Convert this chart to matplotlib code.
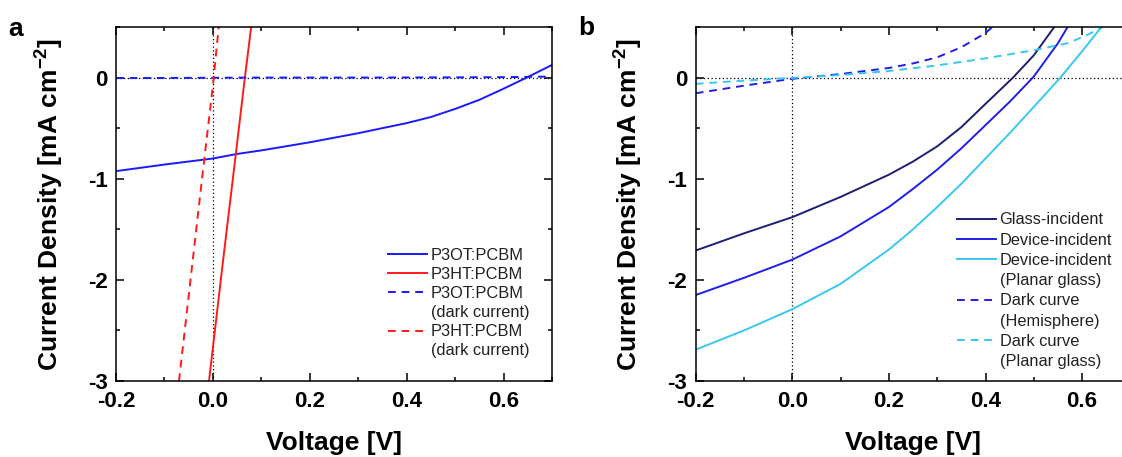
import matplotlib
matplotlib.use("Agg")
import matplotlib.pyplot as plt
from matplotlib.lines import Line2D
from matplotlib.ticker import MultipleLocator, FormatStrFormatter

plt.rcParams["font.family"] = ["Liberation Sans", "DejaVu Sans"]
plt.rcParams["mathtext.fontset"] = "custom"
plt.rcParams["mathtext.rm"] = "Liberation Sans"
plt.rcParams["mathtext.bf"] = "Liberation Sans:bold"
plt.rcParams["axes.unicode_minus"] = False

# panel a data
p3ot_v = [-0.2, -0.1, 0.0, 0.05, 0.1, 0.2, 0.3, 0.4, 0.45, 0.5, 0.55, 0.6, 0.65, 0.7]
p3ot_j = [-0.925, -0.86, -0.80, -0.755, -0.72, -0.64, -0.55, -0.45, -0.39, -0.31, -0.22, -0.11, 0.005, 0.125]
p3ht_v = [-0.008, 0.02, 0.047, 0.066, 0.079]
p3ht_j = [-3.0, -1.85, -0.77, 0.0, 0.5]
p3ot_dark_v = [-0.2, -0.1, 0.0, 0.1, 0.2, 0.3, 0.4, 0.5, 0.6, 0.65, 0.7]
p3ot_dark_j = [-0.005, -0.004, -0.002, 0.0, 0.0, 0.0, 0.001, 0.002, 0.004, 0.007, 0.01]
p3ht_dark_v = [-0.07, -0.045, -0.02, 0.0, 0.012]
p3ht_dark_j = [-3.0, -1.95, -0.9, -0.08, 0.5]

# panel b data
glass_v = [-0.2, -0.1, 0.0, 0.1, 0.2, 0.25, 0.3, 0.35, 0.4, 0.457, 0.5, 0.55]
glass_j = [-1.71, -1.54, -1.38, -1.18, -0.96, -0.83, -0.68, -0.49, -0.26, 0.0, 0.22, 0.55]
device_v = [-0.2, -0.1, 0.0, 0.1, 0.2, 0.25, 0.3, 0.35, 0.4, 0.45, 0.5, 0.55, 0.58]
device_j = [-2.15, -1.98, -1.80, -1.57, -1.28, -1.10, -0.91, -0.70, -0.47, -0.24, 0.01, 0.34, 0.58]
planar_v = [-0.2, -0.1, 0.0, 0.1, 0.2, 0.25, 0.3, 0.35, 0.4, 0.45, 0.5, 0.555, 0.6, 0.65]
planar_j = [-2.69, -2.50, -2.29, -2.04, -1.70, -1.50, -1.28, -1.05, -0.80, -0.55, -0.29, 0.0, 0.26, 0.56]
dark_hemi_v = [-0.2, -0.1, 0.0, 0.1, 0.2, 0.25, 0.3, 0.35, 0.4, 0.414, 0.43]
dark_hemi_j = [-0.155, -0.08, -0.012, 0.035, 0.095, 0.14, 0.20, 0.30, 0.44, 0.5, 0.56]
dark_planar_v = [-0.2, -0.1, 0.0, 0.1, 0.2, 0.3, 0.4, 0.5, 0.57, 0.61, 0.643]
dark_planar_j = [-0.062, -0.03, -0.003, 0.025, 0.065, 0.12, 0.19, 0.27, 0.34, 0.42, 0.5]

xticks = [-0.2, 0.0, 0.2, 0.4, 0.6]
yticks = [-3, -2, -1, 0]

fig = plt.figure(figsize=(11.22, 4.57), dpi=100)
W, H = 1122, 457
ax1 = fig.add_axes([116 / W, (H - 381) / H, 436 / W, 354 / H])
ax2 = fig.add_axes([695.7 / W, (H - 381) / H, 434.7 / W, 354 / H])

lw = 1.4
for ax in (ax1, ax2):
    ax.axhline(0, color="black", lw=0.9, ls=(0, (1, 2)), zorder=1)
    ax.axvline(0, color="black", lw=0.9, ls=(0, (1, 2)), zorder=1)

red = "#ff1a1a"
blue = "#1a1aff"
ax1.plot(p3ot_v, p3ot_j, color=blue, lw=lw)
ax1.plot(p3ht_v, p3ht_j, color=red, lw=lw)
ax1.plot(p3ot_dark_v, p3ot_dark_j, color=blue, lw=lw, dashes=(4, 3))
ax1.plot(p3ht_dark_v, p3ht_dark_j, color=red, lw=lw, dashes=(4, 3))

navy = "#1e1e72"
devblue = "#1f1fe8"
light = "#38c8f2"
ax2.plot(glass_v, glass_j, color=navy, lw=lw)
ax2.plot(device_v, device_j, color=devblue, lw=lw)
ax2.plot(planar_v, planar_j, color=light, lw=lw)
ax2.plot(dark_hemi_v, dark_hemi_j, color=devblue, lw=lw, dashes=(4, 3))
ax2.plot(dark_planar_v, dark_planar_j, color=light, lw=lw, dashes=(4, 3))

for ax in (ax1, ax2):
    ax.set_xlim(-0.2, 0.7)
    ax.set_ylim(-3, 0.5)
    ax.set_xticks(xticks)
    ax.set_yticks(yticks)
    ax.xaxis.set_minor_locator(MultipleLocator(0.1))
    ax.yaxis.set_minor_locator(MultipleLocator(0.5))
    ax.xaxis.set_major_formatter(FormatStrFormatter("%.1f"))
    ax.tick_params(which="both", direction="in", top=True, right=True, width=1.1)
    ax.tick_params(which="major", length=6, labelsize=16)
    ax.tick_params(axis="x", which="major", pad=7)
    ax.tick_params(axis="y", which="major", pad=6)
    ax.tick_params(which="minor", length=3)
    for lab in ax.get_xticklabels() + ax.get_yticklabels():
        lab.set_fontweight("bold")
    for s in ax.spines.values():
        s.set_linewidth(1.1)
    ax.set_xlabel("Voltage [V]", fontsize=19, fontweight="bold", labelpad=14)
    ax.set_ylabel(r"Current Density [mA cm$\mathbf{^{-2}}$]", fontsize=19, fontweight="bold", labelpad=16)

def blank():
    return Line2D([], [], linestyle="none")

h1 = [Line2D([], [], color=blue, lw=lw), Line2D([], [], color=red, lw=lw),
      Line2D([], [], color=blue, lw=lw, dashes=(4, 3)), blank(),
      Line2D([], [], color=red, lw=lw, dashes=(4, 3)), blank()]
l1 = ["P3OT:PCBM", "P3HT:PCBM", "P3OT:PCBM", "(dark current)", "P3HT:PCBM", "(dark current)"]
leg1 = ax1.legend(h1, l1, loc="upper left", bbox_to_anchor=(0.624, 0.376), frameon=False,
                  fontsize=11.8, handlelength=2.4, handletextpad=0.2, labelspacing=0.25,
                  borderpad=0, borderaxespad=0, labelcolor="#222222")

h2 = [Line2D([], [], color=navy, lw=lw), Line2D([], [], color=devblue, lw=lw),
      Line2D([], [], color=light, lw=lw), blank(),
      Line2D([], [], color=devblue, lw=lw, dashes=(4, 3)), blank(),
      Line2D([], [], color=light, lw=lw, dashes=(4, 3)), blank()]
l2 = ["Glass-incident", "Device-incident", "Device-incident", "(Planar glass)",
      "Dark curve", "(Hemisphere)", "Dark curve", "(Planar glass)"]
leg2 = ax2.legend(h2, l2, loc="upper left", bbox_to_anchor=((957 - 695.7) / 434.7, 0.476), frameon=False,
                  fontsize=11.8, handlelength=2.4, handletextpad=0.2, labelspacing=0.32,
                  borderpad=0, borderaxespad=0, labelcolor="#222222")

fig.text(8 / W, 1 - 36 / H, "a", fontsize=19, fontweight="bold", va="baseline")
fig.text(578 / W, 1 - 35 / H, "b", fontsize=19, fontweight="bold", va="baseline")

fig.savefig("out.png", dpi=100)
